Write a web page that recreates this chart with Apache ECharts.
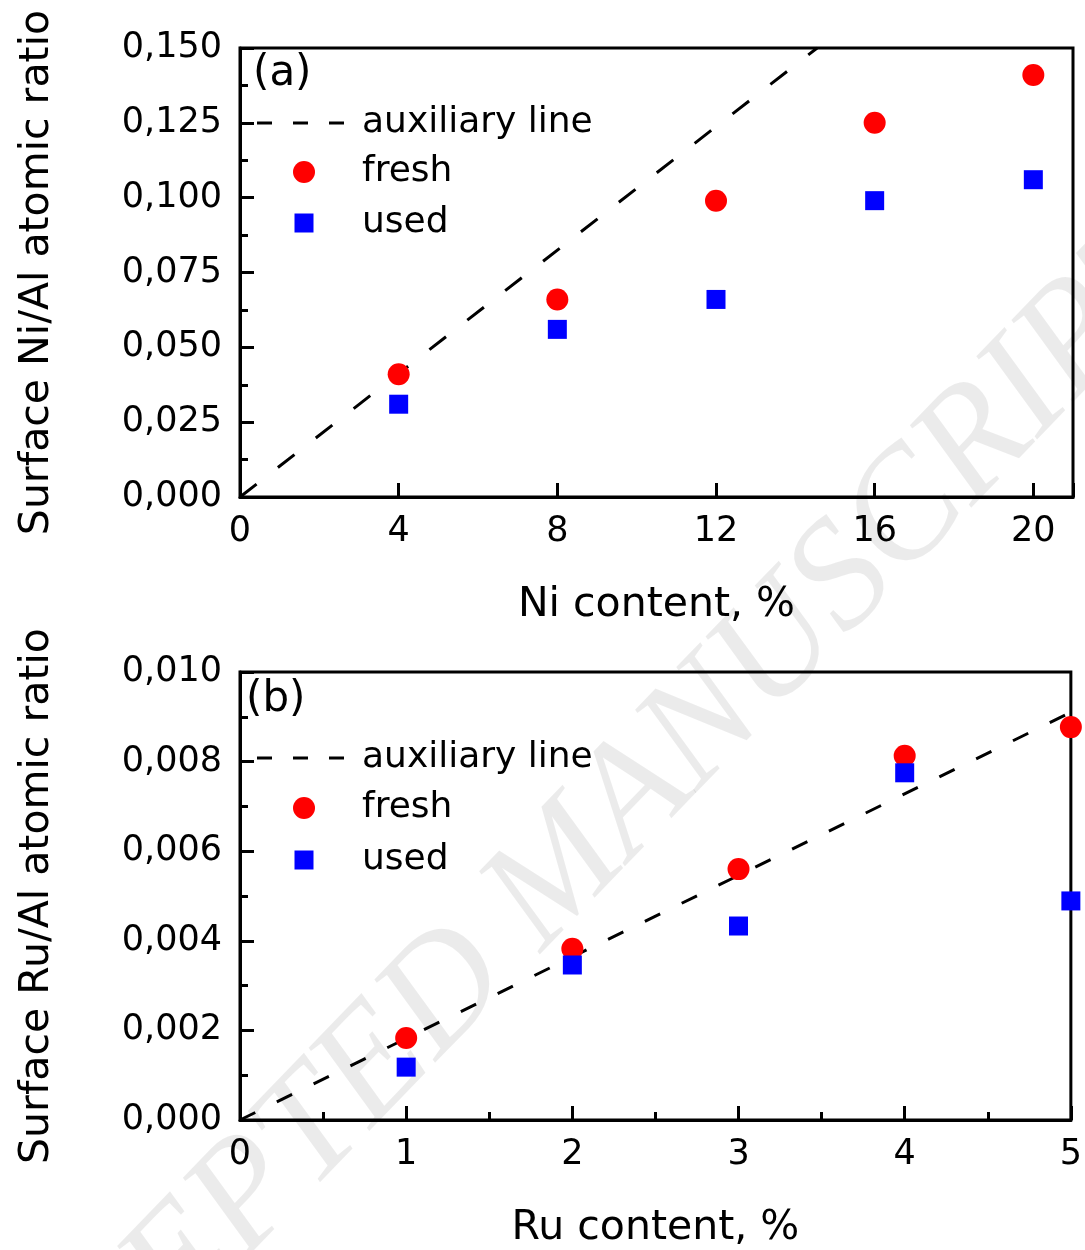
<!DOCTYPE html>
<html>
<head>
<meta charset="utf-8">
<script src="https://cdn.jsdelivr.net/npm/echarts@6/dist/echarts.min.js"></script>
<style>
  html, body { margin: 0; padding: 0; background: #fff; }
  #chart { width: 1085px; height: 1250px; }
</style>
</head>
<body>
<div id="chart"></div>
<script>
// ---- Data ----
const niContent = [4, 8, 12, 16, 20];
const niFresh = [0.041, 0.066, 0.099, 0.125, 0.141];
const niUsed = [0.031, 0.056, 0.066, 0.099, 0.106];
const niAuxX = [0, 14.55];
const niAuxY = [0, 0.150];

const ruContent = [1, 2, 3, 4, 5];
const ruFresh = [0.00183, 0.00382, 0.00560, 0.00813, 0.00877];
const ruUsed = [0.00118, 0.00346, 0.00433, 0.00775, 0.00489];
const ruAuxX = [0, 5];
const ruAuxY = [0, 0.0091];

const legendNames = ['auxiliary line', 'fresh', 'used'];
const panelLabels = ['(a)', '(b)'];
const xTitles = ['Ni content, %', 'Ru content, %'];
const yTitles = ['Surface Ni/Al atomic ratio', 'Surface Ru/Al atomic ratio'];
const watermark = 'ACCEPTED MANUSCRIPT';

const pairs = (xs, ys) => xs.map((x, i) => [x, ys[i]]);
const FONT = 'DejaVu Sans';

const chart = echarts.init(document.getElementById('chart'), null, { renderer: 'canvas' });

function xAxisCfg(gi, max, interval, minor, name, gap) {
  return {
    gridIndex: gi, type: 'value', min: 0, max: max, interval: interval,
    name: name, nameLocation: 'middle', nameGap: gap,
    nameTextStyle: { fontFamily: FONT, fontSize: 41, color: '#000' },
    axisLine: { show: true, onZero: false, lineStyle: { color: '#000', width: 3 } },
    axisTick: { show: true, inside: true, length: 14, lineStyle: { color: '#000', width: 3 } },
    minorTick: { show: minor, splitNumber: 2, length: 8, lineStyle: { color: '#000', width: 3 } },
    splitLine: { show: false },
    axisLabel: {
      fontFamily: FONT, fontSize: 35, color: '#000', margin: 17,
      formatter: v => (Math.abs(v / interval - Math.round(v / interval)) < 1e-9 ? String(v) : '')
    }
  };
}
function yAxisCfg(gi, max, interval, name) {
  return {
    gridIndex: gi, type: 'value', min: 0, max: max, interval: interval,
    name: name, nameLocation: 'middle', nameGap: 182, nameRotate: 90,
    nameTextStyle: { fontFamily: FONT, fontSize: 41, color: '#000' },
    axisLine: { show: true, onZero: false, lineStyle: { color: '#000', width: 3 } },
    axisTick: { show: true, inside: true, length: 14, lineStyle: { color: '#000', width: 3 } },
    minorTick: { show: true, splitNumber: 2, length: 8, lineStyle: { color: '#000', width: 3 } },
    splitLine: { show: false },
    axisLabel: {
      fontFamily: FONT, fontSize: 35, color: '#000', margin: 18,
      formatter: v => v.toFixed(3).replace('.', ',')
    }
  };
}

// Legend drawn as graphic elements (line sample, circle, square + text)
function legendGraphics(yLine, yFresh, yUsed) {
  const textStyle = (t, y) => ({
    type: 'text', x: 362, y: y, silent: true,
    style: { text: t, fontFamily: FONT, fontSize: 36, fill: '#000', verticalAlign: 'middle', align: 'left' }
  });
  return [
    {
      type: 'line', silent: true,
      shape: { x1: 257, y1: yLine, x2: 345, y2: yLine },
      style: { stroke: '#000', lineWidth: 3, lineDash: [15, 21] }
    },
    textStyle(legendNames[0], yLine),
    { type: 'circle', silent: true, shape: { cx: 304, cy: yFresh, r: 11 }, style: { fill: '#ff0000' } },
    textStyle(legendNames[1], yFresh),
    { type: 'rect', silent: true, shape: { x: 294.5, y: yUsed - 9.5, width: 19, height: 19 }, style: { fill: '#0000ff' } },
    textStyle(legendNames[2], yUsed)
  ];
}

function seriesFor(gi, auxX, auxY, xs, fresh, used, dash) {
  return [
    {
      name: legendNames[0], type: 'line', xAxisIndex: gi, yAxisIndex: gi,
      data: pairs(auxX, auxY), symbol: 'none', showSymbol: false,
      lineStyle: { color: '#000', width: 3, type: dash },
      itemStyle: { color: '#000' }, z: 2, silent: true
    },
    {
      name: legendNames[1], type: 'scatter', xAxisIndex: gi, yAxisIndex: gi,
      data: pairs(xs, fresh), symbol: 'circle', symbolSize: 22,
      itemStyle: { color: '#ff0000', opacity: 1 }, z: 3, clip: false
    },
    {
      name: legendNames[2], type: 'scatter', xAxisIndex: gi, yAxisIndex: gi,
      data: pairs(xs, used), symbol: 'rect', symbolSize: 19,
      itemStyle: { color: '#0000ff', opacity: 1 }, z: 3, clip: false
    }
  ];
}

const option = {
  backgroundColor: '#fff',
  animation: false,
  grid: [
    { left: 240, top: 48, width: 833, height: 449, show: true, borderColor: '#000', borderWidth: 3, backgroundColor: 'transparent' },
    { left: 240, top: 672, width: 833, height: 448, show: true, borderColor: '#000', borderWidth: 3, backgroundColor: 'transparent' }
  ],
  xAxis: [
    xAxisCfg(0, 21, 4, false, xTitles[0], 88),
    xAxisCfg(1, 5, 1, true, xTitles[1], 88)
  ],
  yAxis: [
    yAxisCfg(0, 0.150, 0.025, yTitles[0]),
    yAxisCfg(1, 0.010, 0.002, yTitles[1])
  ],
  graphic: [].concat(
    [
      {
        type: 'text', x: 555, y: 880, rotation: 46 * Math.PI / 180, z: -10, silent: true,
        style: {
          text: watermark, fontFamily: 'Liberation Serif', fontStyle: 'italic',
          fontSize: 155, fill: 'rgba(0,0,0,0.08)', align: 'center', verticalAlign: 'middle'
        }
      },
      {
        type: 'text', left: 253, top: 53, silent: true,
        style: { text: panelLabels[0], fontFamily: FONT, fontSize: 42, fill: '#000' }
      },
      {
        type: 'text', left: 246, top: 679, silent: true,
        style: { text: panelLabels[1], fontFamily: FONT, fontSize: 42, fill: '#000' }
      }
    ],
    legendGraphics(123, 172, 223),
    legendGraphics(758, 808, 860)
  ),
  series: [].concat(
    seriesFor(0, niAuxX, niAuxY, niContent, niFresh, niUsed, [21, 27]),
    seriesFor(1, ruAuxX, ruAuxY, ruContent, ruFresh, ruUsed, [17, 24])
  )
};

chart.setOption(option);
</script>
</body>
</html>
